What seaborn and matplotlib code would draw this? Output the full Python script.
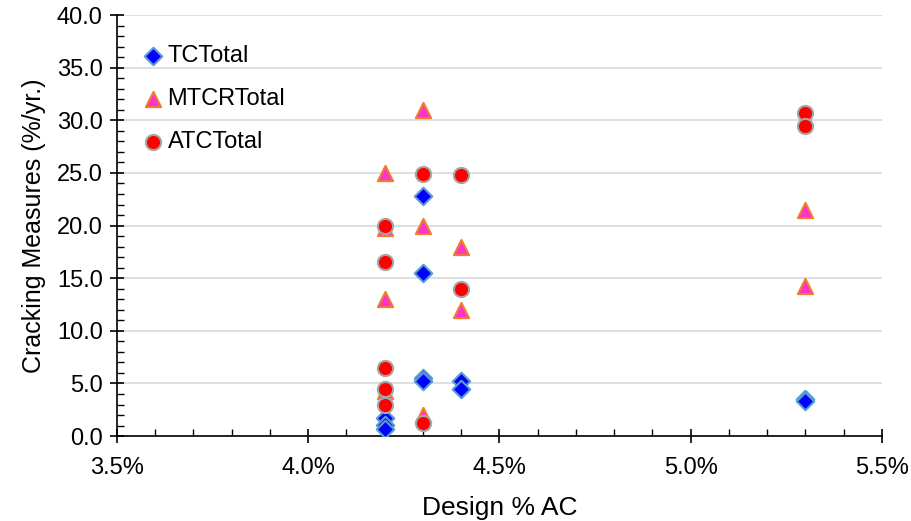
import numpy as np
import pandas as pd
import matplotlib
matplotlib.use('Agg')
import matplotlib.pyplot as plt
from matplotlib.ticker import MultipleLocator, FuncFormatter
import seaborn as sns

# ── Data ──────────────────────────────────────────────────────────────
tc_x = [4.2, 4.2, 4.2, 4.3, 4.3, 4.3, 4.3, 4.4, 4.4, 5.3, 5.3]
tc_y = [1.7, 1.1, 0.7, 22.8, 15.5, 5.5, 5.2, 5.2, 4.5, 3.5, 3.3]

mtcr_x = [4.2, 4.2, 4.2, 4.2, 4.3, 4.3, 4.3, 4.4, 4.4, 5.3, 5.3]
mtcr_y = [25.0, 19.8, 13.0, 4.3, 31.0, 20.0, 2.0, 18.0, 12.0, 21.5, 14.3]

atc_x = [4.2, 4.2, 4.2, 4.2, 4.2, 4.3, 4.3, 4.4, 4.4, 5.3, 5.3]
atc_y = [20.0, 16.5, 6.5, 4.5, 3.0, 24.9, 1.2, 24.8, 14.0, 30.7, 29.5]

series = [
    ('TCTotal',   tc_x,   tc_y,   'D', '#0000FF', '#5B9BD5', 80),
    ('MTCRTotal', mtcr_x, mtcr_y, '^', '#FF33CC', '#ED7D31', 120),
    ('ATCTotal',  atc_x,  atc_y,  'o', '#FF0000', '#A5A5A5', 120),
]

sns.set_style('white')
plt.rcParams['font.family'] = ['Liberation Sans', 'DejaVu Sans']
plt.rcParams['text.color'] = 'black'
plt.rcParams['axes.labelcolor'] = 'black'
plt.rcParams['xtick.color'] = 'black'
plt.rcParams['ytick.color'] = 'black'

fig = plt.figure(figsize=(9.12, 5.21), dpi=100)
ax = fig.add_axes([0.128, 0.163, 0.839, 0.808])

for name, xs, ys, mk, fc, ec, size in series:
    df = pd.DataFrame({'x': xs, 'y': ys})
    sns.scatterplot(data=df, x='x', y='y', ax=ax, marker=mk, color=fc,
                    edgecolor=ec, linewidth=1.5, s=size, label=name,
                    zorder=3)

ax.set_xlim(3.5, 5.5)
ax.set_ylim(0, 40)
ax.xaxis.set_major_locator(MultipleLocator(0.5))
ax.xaxis.set_minor_locator(MultipleLocator(0.1))
ax.yaxis.set_major_locator(MultipleLocator(5))
ax.yaxis.set_minor_locator(MultipleLocator(1))
ax.xaxis.set_major_formatter(FuncFormatter(lambda v, p: f'{v:.1f}%'))
ax.yaxis.set_major_formatter(FuncFormatter(lambda v, p: f'{v:.1f}'))

ax.grid(axis='y', which='major', color='#D9D9D9', linewidth=1.2, zorder=0)
ax.set_axisbelow(True)

for s in ['top', 'right']:
    ax.spines[s].set_visible(False)
for s in ['left', 'bottom']:
    ax.spines[s].set_color('black')
    ax.spines[s].set_linewidth(1.2)

ax.tick_params(axis='both', which='major', direction='inout', length=10,
               width=1.2, color='black', labelsize=17, labelcolor='black',
               left=True, bottom=True)
ax.tick_params(axis='both', which='minor', direction='in', length=5,
               width=1, color='black', left=True, bottom=True)
ax.tick_params(axis='x', which='major', pad=10)
ax.tick_params(axis='y', which='major', pad=5)

ax.set_xlabel('Design % AC', fontsize=19, labelpad=12, color='black')
ax.set_ylabel('Cracking Measures (%/yr.)', fontsize=18, labelpad=8,
              color='black')

ax.legend(loc='upper left', frameon=False, fontsize=17,
          bbox_to_anchor=(0.0, 0.98), handletextpad=0.0,
          handlelength=1.25, labelspacing=0.9, borderaxespad=0.5,
          markerscale=1.0)

fig.savefig('out.png', dpi=100)
plt.close(fig)
